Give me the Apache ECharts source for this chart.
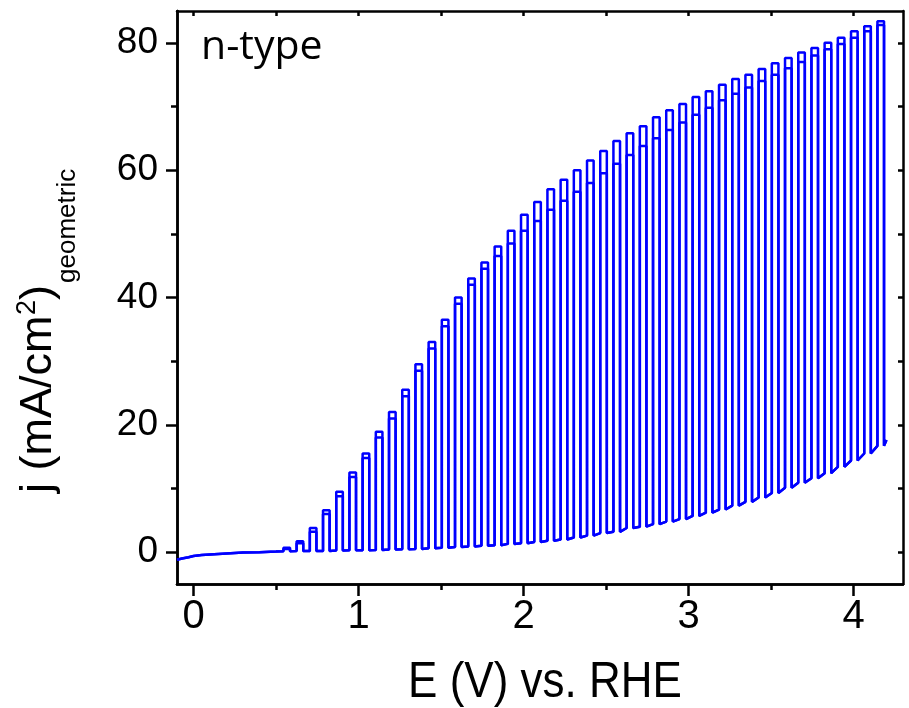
<!DOCTYPE html>
<html><head><meta charset="utf-8">
<script src="https://cdn.jsdelivr.net/npm/echarts@6/dist/echarts.min.js"></script>
<style>html,body{margin:0;padding:0;background:#fff}#c{width:909px;height:708px}</style>
</head><body><div id="c"></div>
<script>
// dark baseline before chopping starts (E in V, j in mA/cm2)
const baseE = [-0.1, -0.07, -0.03, 0, 0.05, 0.1, 0.2, 0.3, 0.4, 0.5];
const baseJ = [-1.2, -1.0, -0.8, -0.6, -0.45, -0.35, -0.2, -0.05, 0.0, 0.1];
// light-on / light-off potentials of each chopping cycle
const onE = [0.545, 0.625, 0.705, 0.785, 0.865, 0.945, 1.025, 1.105, 1.185, 1.265, 1.345, 1.425, 1.505, 1.585, 1.665, 1.745, 1.825, 1.905, 1.985, 2.065, 2.145, 2.225, 2.305, 2.385, 2.465, 2.545, 2.625, 2.705, 2.785, 2.865, 2.945, 3.025, 3.105, 3.185, 3.265, 3.345, 3.425, 3.505, 3.585, 3.665, 3.745, 3.825, 3.905, 3.985, 4.065, 4.145];
const offE = [0.585, 0.665, 0.745, 0.825, 0.905, 0.985, 1.065, 1.145, 1.225, 1.305, 1.385, 1.465, 1.545, 1.625, 1.705, 1.785, 1.865, 1.945, 2.025, 2.105, 2.185, 2.265, 2.345, 2.425, 2.505, 2.585, 2.665, 2.745, 2.825, 2.905, 2.985, 3.065, 3.145, 3.225, 3.305, 3.385, 3.465, 3.545, 3.625, 3.705, 3.785, 3.865, 3.945, 4.025, 4.105, 4.185];
// dark current at each cycle
const darkJ = [0.15, 0.2, 0.2, 0.2, 0.25, 0.3, 0.3, 0.35, 0.4, 0.45, 0.5, 0.6, 0.7, 0.8, 0.9, 1.0, 1.1, 1.3, 1.4, 1.6, 1.8, 2.0, 2.3, 2.6, 3.0, 3.2, 3.8, 4.0, 4.4, 4.8, 5.2, 5.7, 6.2, 6.7, 7.3, 7.9, 8.6, 9.3, 10.1, 10.9, 11.6, 12.4, 13.4, 14.4, 15.5, 16.7];
// light current of each cycle, scan A (outer) and scan B (inner)
const lightA = [0.7, 1.7, 3.8, 6.6, 9.5, 12.5, 15.5, 18.9, 22.0, 25.5, 29.5, 33.0, 36.5, 40.0, 43.0, 45.5, 48.0, 50.5, 53.0, 55.0, 57.0, 58.5, 60.0, 61.5, 63.0, 64.6, 65.8, 66.9, 68.3, 69.4, 70.4, 71.5, 72.4, 73.4, 74.3, 75.0, 75.9, 76.8, 77.6, 78.5, 79.2, 80.0, 80.8, 81.8, 82.6, 83.4];
const lightB = [0.5, 1.4, 3.2, 6.0, 8.8, 11.8, 14.8, 18.0, 21.0, 24.5, 28.5, 32.0, 35.5, 39.0, 42.0, 44.5, 46.5, 48.5, 50.5, 52.0, 53.8, 55.2, 56.6, 58.0, 59.5, 61.0, 62.4, 63.8, 65.0, 66.3, 67.5, 68.7, 69.8, 71.0, 72.0, 73.0, 74.0, 75.0, 76.0, 77.0, 78.0, 79.0, 79.8, 80.8, 81.8, 82.8];
const endE = 4.2, endJ = 17.6;
// axis ticks
const xTicks = [0, 1, 2, 3, 4];
const xMinorTicks = [0.5, 1.5, 2.5, 3.5];
const xTopTicks = [0, 0.5, 1, 1.5, 2, 2.5, 3, 3.5, 4];
const yTicks = [0, 20, 40, 60, 80];
const yMinorTicks = [10, 30, 50, 70];
const yRightTicks = [0, 10, 20, 30, 40, 50, 60, 70, 80];
const X_MIN = -0.1, X_MAX = 4.3, Y_MIN = -5, Y_MAX = 85;

function buildScan(light) {
  const pts = baseE.map((e, i) => [e, baseJ[i]]);
  for (let k = 0; k < onE.length; k++) {
    pts.push([onE[k], darkJ[k]]);
    pts.push([onE[k], light[k]]);
    pts.push([offE[k], light[k]]);
    pts.push([offE[k], darkJ[k]]);
  }
  pts.push([endE, endJ]);
  return pts;
}

const chart = echarts.init(document.getElementById('c'), null, {renderer: 'canvas'});
const AX = '#000';
const lineStyle = {color: AX, width: 2.5};
function xAx(pos, ticks, len, inside, labels) {
  return {
    type: 'value', min: X_MIN, max: X_MAX, position: pos,
    axisLine: {show: true, onZero: false, lineStyle: lineStyle},
    axisTick: {show: true, customValues: ticks, length: len, inside: inside, lineStyle: lineStyle},
    axisLabel: labels ? {show: true, customValues: ticks, fontSize: 40, color: AX, fontFamily: 'Liberation Sans', margin: 13} : {show: false},
    splitLine: {show: false}
  };
}
function yAx(pos, ticks, len, inside, labels) {
  return {
    type: 'value', min: Y_MIN, max: Y_MAX, position: pos,
    axisLine: {show: true, onZero: false, lineStyle: lineStyle},
    axisTick: {show: true, customValues: ticks, length: len, inside: inside, lineStyle: lineStyle},
    axisLabel: labels ? {show: true, customValues: ticks, fontSize: 37, color: AX, fontFamily: 'Liberation Sans', margin: 19} : {show: false},
    splitLine: {show: false}
  };
}

chart.setOption({
  animation: false,
  backgroundColor: '#fff',
  grid: {left: 177, right: 6, top: 11, bottom: 124, containLabel: false, outerBoundsMode: 'none'},
  xAxis: [
    xAx('bottom', xTicks, 12, false, true),
    xAx('bottom', xMinorTicks, 6, false, false),
    xAx('top', xTopTicks, 5, true, false)
  ],
  yAxis: [
    yAx('left', yTicks, 11, false, true),
    yAx('left', yMinorTicks, 6, false, false),
    yAx('right', yRightTicks, 5, true, false)
  ],
  series: [
    {type: 'line', xAxisIndex: 0, yAxisIndex: 0, data: buildScan(lightB), showSymbol: false,
     lineStyle: {color: '#0000ff', width: 2.5}, itemStyle: {color: '#0000ff'}},
    {type: 'line', xAxisIndex: 0, yAxisIndex: 0, data: buildScan(lightA), showSymbol: false,
     lineStyle: {color: '#0000ff', width: 2.5}, itemStyle: {color: '#0000ff'}}
  ],
  graphic: [
    {type: 'text', left: 201, top: 27, style: {text: 'n-type', font: '41px "Open Sans"', fill: '#000'}},
    {type: 'text', x: 545, y: 683, scaleX: 0.88, style: {text: 'E (V) vs. RHE', font: '50px "Liberation Sans"', fill: '#000', align: 'center', verticalAlign: 'middle'}},
    {type: 'group', x: 54, y: 493, rotation: Math.PI / 2, children: [
      {type: 'text', x: 0, y: -15.6, style: {text: 'j (mA/cm', font: '45px "Liberation Sans"', fill: '#000', align: 'left', verticalAlign: 'middle'}},
      {type: 'text', x: 178, y: -26, style: {text: '2', font: '27px "Liberation Sans"', fill: '#000', align: 'left', verticalAlign: 'middle'}},
      {type: 'text', x: 193, y: -15.6, style: {text: ')', font: '45px "Liberation Sans"', fill: '#000', align: 'left', verticalAlign: 'middle'}},
      {type: 'text', x: 210, y: 14, style: {text: 'geometric', font: '26px "Liberation Sans"', fill: '#000', align: 'left', verticalAlign: 'middle'}}
    ]}
  ]
});
</script>
</body></html>
